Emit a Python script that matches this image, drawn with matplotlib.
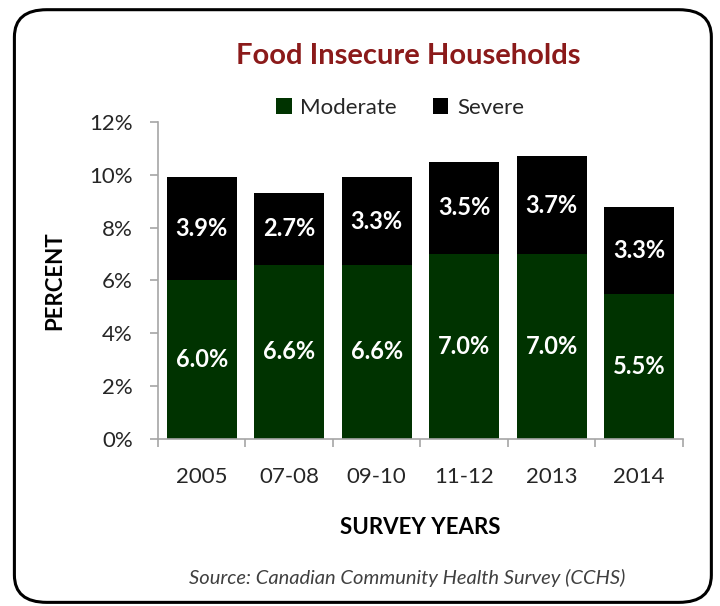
import matplotlib
matplotlib.use("Agg")
import matplotlib.pyplot as plt
from matplotlib.patches import FancyBboxPatch
import numpy as np

plt.rcParams['font.family'] = ['Lato', 'DejaVu Sans']

# survey years and the two food-insecurity levels (% of households)
years = ["2005", "07-08", "09-10", "11-12", "2013", "2014"]
moderate = [6.0, 6.6, 6.6, 7.0, 7.0, 5.5]
severe = [3.9, 2.7, 3.3, 3.5, 3.7, 3.3]

GREEN = "#003300"
AXIS_GREY = "#a6a6a6"
TEXT = "#262626"

fig = plt.figure(figsize=(7.2, 6.06), dpi=100)

# rounded frame around the whole chart
frame = FancyBboxPatch((0.02, 0.006), 0.968, 0.978,
                       boxstyle="round,pad=0,rounding_size=0.045",
                       transform=fig.transFigure, fill=False,
                       edgecolor="black", linewidth=2.2)
fig.patches.append(frame)

ax = fig.add_axes([0.2194, 0.2756, 0.7292, 0.5231])
x = np.arange(len(years))
b1 = ax.bar(x, moderate, width=0.8, color=GREEN, label="Moderate")
b2 = ax.bar(x, severe, width=0.8, bottom=moderate, color="black", label="Severe")

for i in range(len(years)):
    ax.text(x[i], moderate[i] / 2, f"{moderate[i]:.1f}%", ha="center", va="center",
            color="white", fontsize=17, fontweight="bold")
    ax.text(x[i], moderate[i] + severe[i] / 2, f"{severe[i]:.1f}%", ha="center",
            va="center", color="white", fontsize=17, fontweight="bold")

ax.set_xlim(-0.5, len(years) - 0.5)
ax.set_ylim(0, 12)
ax.set_yticks(np.arange(0, 13, 2))
ax.set_yticklabels([f"{v}%" for v in range(0, 13, 2)])
ax.set_xticks(x)
ax.set_xticklabels(years)
ax.set_xticks(np.arange(-0.5, len(years), 1), minor=True)
ax.tick_params(axis="x", which="major", length=0, pad=20, labelsize=16, labelcolor=TEXT)
ax.tick_params(axis="x", which="minor", length=6, color=AXIS_GREY, width=1.2)
ax.tick_params(axis="y", length=6, color=AXIS_GREY, width=1.2, labelsize=16,
               labelcolor=TEXT, pad=12)
for s in ["top", "right"]:
    ax.spines[s].set_visible(False)
for s in ["left", "bottom"]:
    ax.spines[s].set_color(AXIS_GREY)
    ax.spines[s].set_linewidth(1.2)

ax.set_ylabel("PERCENT", fontsize=16, fontweight="bold", color="black", labelpad=17)
ax.set_xlabel("SURVEY YEARS", fontsize=16, fontweight="bold", color="black", labelpad=22)

fig.text(0.567, 0.908, "Food Insecure Households", ha="center", va="center",
         fontsize=21, fontweight="bold", color="#8b1a1a")

ax.legend(loc="center", bbox_to_anchor=(0.461, 1.044), ncol=2, frameon=False,
          fontsize=16, handlelength=0.7, handleheight=0.7, handletextpad=0.4,
          columnspacing=1.6, labelcolor=TEXT)

fig.text(0.565, 0.046, "Source: Canadian Community Health Survey (CCHS)", ha="center",
         va="center", fontsize=14.5, style="italic", color="#404040")

fig.savefig("out.png", dpi=100)
